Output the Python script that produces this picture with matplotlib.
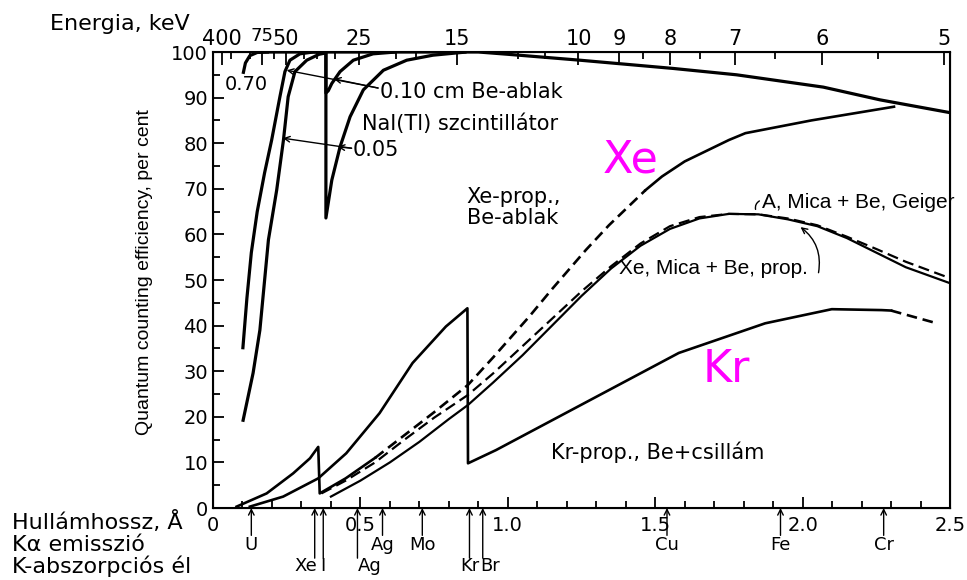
import numpy as np
import matplotlib.pyplot as plt
from matplotlib.transforms import ScaledTranslation

# NaI(Tl) scintillator curves (wavelength in A, efficiency in %)
nai_070_x = [0.102, 0.11, 0.125, 0.15, 0.19]
nai_070_y = [95.2, 97.6, 99.2, 99.9, 100]

nai_010_x = [0.101, 0.115, 0.13, 0.15, 0.175, 0.199, 0.227, 0.244, 0.261, 0.295, 0.340, 0.383,
             0.383, 0.391, 0.403, 0.431, 0.476, 0.543, 0.62]
nai_010_y = [34.8, 46.0, 56.0, 65.0, 73.5, 80.7, 90.2, 95.7, 98.2, 99.6, 100, 100,
             91.0, 91.5, 93.1, 95.7, 98.2, 99.6, 100]

nai_005_x = [0.101, 0.136, 0.159, 0.188, 0.216, 0.239, 0.255, 0.278, 0.318, 0.36, 0.383,
             0.383, 0.403, 0.431, 0.465, 0.51, 0.578, 0.657, 0.746, 0.86]
nai_005_y = [18.9, 29.6, 39.0, 58.8, 69.7, 80.7, 90.2, 95.7, 98.2, 99.5, 99.8,
             63.6, 71.9, 79.2, 85.8, 91.7, 96.0, 98.2, 99.3, 100]

nai_top_x = [0.15, 0.6, 0.9, 1.0, 1.245, 1.56, 1.776, 2.07, 2.263, 2.5]
nai_top_y = [100, 100, 100, 99.5, 98.2, 96.4, 95.0, 92.3, 89.5, 86.7]

# Xe proportional counter, Be window
xe_be_x = [0.08, 0.182, 0.272, 0.329, 0.357, 0.362, 0.45, 0.55, 0.65, 0.75, 0.865, 0.95,
           1.073, 1.15, 1.265, 1.343, 1.467, 1.523, 1.6, 1.75, 1.806, 2.03, 2.31]
xe_be_y = [0.3, 3.2, 7.6, 10.9, 13.4, 3.2, 6.5, 11.0, 16.0, 21.0, 27.0, 33.0,
           42.0, 48.0, 56.6, 62.0, 69.7, 72.7, 76.0, 80.7, 82.2, 85.0, 88.0]

# Xe, Mica + Be, proportional (dashed)
xe_mica_x = [0.368, 0.45, 0.55, 0.65, 0.75, 0.865, 0.95, 1.05, 1.15, 1.25, 1.35, 1.45,
             1.55, 1.65, 1.75, 1.85, 1.95, 2.05, 2.15, 2.25, 2.35, 2.5]
xe_mica_y = [3.2, 6.0, 10.0, 15.0, 19.8, 24.8, 29.5, 35.5, 41.5, 47.5, 53.0, 58.0,
             61.8, 63.8, 64.5, 64.4, 63.5, 62.0, 59.5, 56.8, 54.0, 50.4]

# A, Mica + Be, Geiger (solid)
ar_mica_x = [0.40, 0.5, 0.6, 0.7, 0.8, 0.865, 0.95, 1.05, 1.15, 1.25, 1.35, 1.45,
             1.55, 1.65, 1.75, 1.85, 1.95, 2.05, 2.15, 2.25, 2.35, 2.5]
ar_mica_y = [2.5, 6.0, 10.0, 14.5, 19.5, 22.6, 27.5, 33.5, 40.0, 46.5, 52.5, 57.5,
             61.2, 63.5, 64.5, 64.4, 63.3, 61.8, 59.2, 56.0, 52.8, 49.3]

# Kr proportional counter, Be + mica
kr_x = [0.125, 0.238, 0.357, 0.452, 0.565, 0.677, 0.79, 0.863, 0.865, 0.96, 1.58,
        1.873, 2.099, 2.268, 2.30, 2.45]
kr_y = [0.3, 2.5, 6.5, 12.0, 20.8, 31.8, 39.8, 43.8, 9.8, 12.7, 34.0,
        40.5, 43.6, 43.4, 43.3, 40.6]

# energy axis (keV)
energy_major = [400, 75, 50, 25, 15, 10, 9, 8, 7, 6, 5]
energy_minor = [200, 100, 60, 40, 35, 30, 20, 18, 12, 11, 8.5, 7.5, 6.5, 5.5]

# K-alpha emission lines and K absorption edges (A)
kalpha_names = ['U', 'Ag', 'Mo', 'Cu', 'Fe', 'Cr']
kalpha_pos = [0.13, 0.575, 0.71, 1.54, 1.925, 2.275]
kedge_names = ['Xe', 'I', 'Ag', 'Kr', 'Br']
kedge_pos = [0.345, 0.374, 0.49, 0.87, 0.915]

fig = plt.figure(figsize=(9.67, 5.8), dpi=100)
ax = fig.add_axes([213 / 967, 72 / 580, 737 / 967, 456 / 580])

thick = dict(color='black', lw=2.3, solid_capstyle='butt')
ax.plot(nai_070_x, nai_070_y, **thick)
ax.plot(nai_010_x, nai_010_y, **thick)
ax.plot(nai_005_x, nai_005_y, **thick)
ax.plot(nai_top_x, nai_top_y, **thick)

mid = dict(color='black', lw=1.9)
s1, s2 = 7, 16
ax.plot(xe_be_x[:s1 + 1], xe_be_y[:s1 + 1], **mid)
ax.plot(xe_be_x[s1:s2 + 1], xe_be_y[s1:s2 + 1], dashes=(4, 2.2), **mid)
ax.plot(xe_be_x[s2:], xe_be_y[s2:], **mid)

ax.plot(xe_mica_x, xe_mica_y, color='black', lw=1.6, dashes=(5, 2.5))
ax.plot(ar_mica_x, ar_mica_y, color='black', lw=1.6)

ax.plot(kr_x[:-1], kr_y[:-1], **mid)
ax.plot(kr_x[-2:], kr_y[-2:], dashes=(4, 2.2), **mid)

ax.set_xlim(0, 2.5)
ax.set_ylim(0, 100)
ax.set_xticks([0, 0.5, 1.0, 1.5, 2.0, 2.5])
ax.set_xticklabels(['0', '0.5', '1.0', '1.5', '2.0', '2.5'])
ax.set_xticks(np.arange(0, 2.51, 0.1), minor=True)
ax.set_yticks(range(0, 101, 10))
ax.set_yticks(range(5, 100, 10), minor=True)
ax.tick_params(which='both', direction='in', width=1.3, labelsize=14)
ax.tick_params(which='major', length=8)
ax.tick_params(which='minor', length=5)
ax.tick_params(axis='x', pad=6)
for sp in ax.spines.values():
    sp.set_linewidth(1.5)

ax2 = ax.twiny()
ax2.set_xlim(0, 2.5)
ax2.set_xticks([12.398 / e for e in energy_major])
ax2.set_xticklabels([str(e) for e in energy_major])
ax2.set_xticks([12.398 / e for e in energy_minor], minor=True)
ax2.tick_params(which='both', direction='in', width=1.3, labelsize=15, pad=2)
ax2.tick_params(which='major', length=9)
ax2.tick_params(which='minor', length=5)
for lbl in ax2.get_xticklabels():
    if lbl.get_text() == '75':
        lbl.set_fontsize(13)
        lbl.set_transform(lbl.get_transform() + ScaledTranslation(0, 3 / 72, fig.dpi_scale_trans))

# labels inside the plot
ax.text(0.041, 92.8, '0.70', fontsize=14, va='center')
ax.text(0.565, 91.2, '0.10 cm Be-ablak', fontsize=15, va='center')
ax.text(0.504, 84.2, 'NaI(Tl) szcintillátor', fontsize=15, va='center')
ax.text(0.474, 78.5, '0.05', fontsize=15, va='center')
arr = dict(arrowstyle='->', lw=1.0, color='black', shrinkA=0, shrinkB=0)
ax.annotate('', xy=(0.25, 96.0), xytext=(0.56, 92.1), arrowprops=arr)
ax.annotate('', xy=(0.41, 94.1), xytext=(0.56, 92.1), arrowprops=arr)
ax.annotate('', xy=(0.237, 81.1), xytext=(0.47, 78.9), arrowprops=arr)
ax.annotate('', xy=(0.423, 79.2), xytext=(0.47, 78.9), arrowprops=arr)

ax.text(1.415, 76.3, 'Xe', fontsize=32, color='magenta', ha='center', va='center')
ax.text(1.743, 30.3, 'Kr', fontsize=32, color='magenta', ha='center', va='center')
ax.text(0.86, 68.2, 'Xe-prop.,', fontsize=15, va='center')
ax.text(0.86, 63.6, 'Be-ablak', fontsize=15, va='center')
narrow = 'Liberation Sans'
ax.text(1.861, 66.9, 'A, Mica + Be, Geiger', fontsize=15, family=narrow, va='center')
ax.annotate('', xy=(1.843, 64.9), xytext=(1.862, 67.6),
            arrowprops=dict(arrowstyle='-', lw=1.0, connectionstyle='arc3,rad=0.5'))
ax.text(1.377, 52.6, 'Xe, Mica + Be, prop.', fontsize=15, family=narrow, va='center')
ax.annotate('', xy=(1.993, 61.6), xytext=(2.054, 51.6),
            arrowprops=dict(arrowstyle='->', lw=1.0, connectionstyle='arc3,rad=0.3',
                            shrinkA=0, shrinkB=0))
ax.text(1.147, 12.3, 'Kr-prop., Be+csillám', fontsize=15, va='center')

# y label and side captions
fig.text(0.149, 0.531, 'Quantum counting efficiency, per cent', rotation=90,
         fontsize=14, family=narrow, ha='center', va='center')
fig.text(50 / 967, 1 - 24 / 580, 'Energia, keV', fontsize=16, va='center')
fig.text(12 / 967, 1 - 522 / 580, 'Hullámhossz, Å', fontsize=16, va='center')
fig.text(12 / 967, 1 - 545 / 580, 'Kα emisszió', fontsize=16, va='center')
fig.text(12 / 967, 1 - 566 / 580, 'K-abszorpciós él', fontsize=16, va='center')

# emission line and absorption edge markers under the axis
mark = dict(arrowstyle='->', lw=1.0, color='black', shrinkA=0, shrinkB=0)
for name, pos in zip(kalpha_names, kalpha_pos):
    ax.annotate('', xy=(pos, 0), xytext=(pos, -0.06), xycoords=('data', 'axes fraction'),
                textcoords=('data', 'axes fraction'), arrowprops=mark, annotation_clip=False)
    ax.annotate(name, xy=(pos, -0.082), xycoords=('data', 'axes fraction'),
                ha='center', va='center', fontsize=13, annotation_clip=False)
for name, pos in zip(kedge_names, kedge_pos):
    ax.annotate('', xy=(pos, 0), xytext=(pos, -0.11), xycoords=('data', 'axes fraction'),
                textcoords=('data', 'axes fraction'), arrowprops=mark, annotation_clip=False)
    ha = {'Xe': 'right', 'Br': 'left', 'Ag': 'left'}.get(name, 'center')
    off = {'Xe': 0.008, 'Br': -0.01, 'Ag': 0.0}.get(name, 0)
    ax.annotate(name, xy=(pos + off, -0.128), xycoords=('data', 'axes fraction'),
                ha=ha, va='center', fontsize=13, annotation_clip=False)

fig.savefig('out.png', dpi=100)
